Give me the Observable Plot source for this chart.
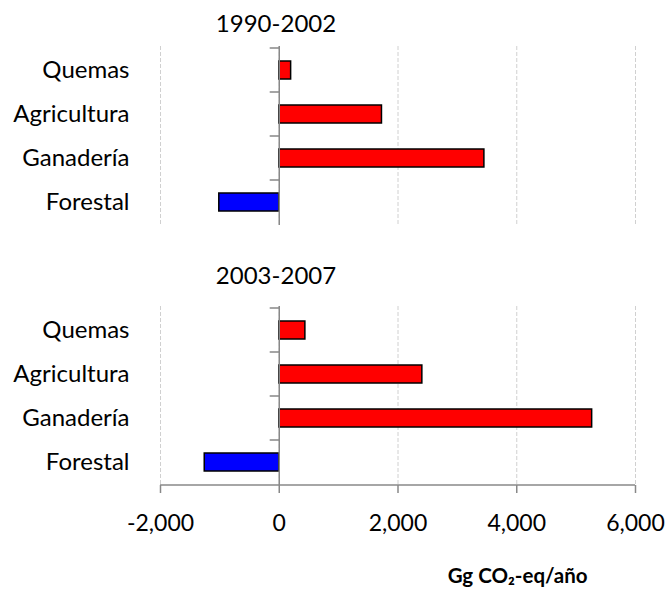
<!DOCTYPE html>
<html>
<head>
<meta charset="utf-8">
<script src="https://cdn.jsdelivr.net/npm/d3@7"></script>
<script src="https://cdn.jsdelivr.net/npm/@observablehq/plot@0.6"></script>
<style>
  html, body { margin: 0; padding: 0; background: #fff; }
  #chart { width: 669px; height: 595px; }
</style>
</head>
<body>
<div id="chart"></div>
<script>
const categories = ["Quemas", "Agricultura", "Ganadería", "Forestal"];
const periods = ["1990-2002", "2003-2007"];
const values1990 = [200, 1730, 3455, -1010];
const values2003 = [440, 2410, 5270, -1255];
const xTicks = [-2000, 0, 2000, 4000, 6000];
const xLabel = "Gg CO\u2082-eq/año";

const data = [
  ...categories.map((c, i) => ({period: periods[0], category: c, value: values1990[i]})),
  ...categories.map((c, i) => ({period: periods[1], category: c, value: values2003[i]}))
];
const boundaries = periods.flatMap(p => categories.map(c => ({period: p, category: c})));

const FONT = "Lato, 'Noto Sans', sans-serif";
const step = 45;
const fmt = d3.format(",");

const tickShape = {draw(context, l) { context.moveTo(0, 0); context.lineTo(0, -l); }};

const plot = Plot.plot({
  width: 669,
  height: 595,
  marginLeft: 160,
  marginRight: 34,
  marginTop: 45,
  marginBottom: 109,
  style: {fontFamily: FONT, fontSize: "24px", color: "#000", background: "#fff"},
  x: {domain: [xTicks[0], xTicks[xTicks.length - 1]], ticks: xTicks},
  y: {domain: categories, paddingInner: 0.6, paddingOuter: 0.3},
  fy: {domain: periods, paddingInner: 0.31, paddingOuter: 0, axis: null},
  marks: [
    Plot.gridX(xTicks, {stroke: "#d0d0d0", strokeOpacity: 1, strokeDasharray: "4,2"}),
    Plot.barX(data, {
      fy: "period", y: "category", x: "value",
      fill: d => d.value < 0 ? "#0000ff" : "#ff0000",
      stroke: "#000", strokeWidth: 1.5
    }),
    Plot.ruleX([0], {stroke: "#888", strokeWidth: 1.5}),
    Plot.vector(boundaries, {
      fy: "period", y: "category", x: 0,
      length: 9, rotate: -90, anchor: "start", shape: tickShape,
      dy: -step / 2, stroke: "#888", strokeWidth: 1.5
    }),
    Plot.ruleY([categories[categories.length - 1]], {
      fy: [periods[1]], y: d => d,
      x1: xTicks[0], x2: xTicks[xTicks.length - 1],
      dy: step / 2, stroke: "#888", strokeWidth: 1.5
    }),
    Plot.axisX({
      ticks: xTicks, tickFormat: d => fmt(d).replace("\u2212", "-"),
      tickSize: 8, tickPadding: 21,
      stroke: "#888", strokeWidth: 1.5, fontSize: 23, label: null
    }),
    Plot.axisY({tickSize: 0, tickPadding: 31, fontSize: 24, label: null}),
    Plot.text([periods[0]], {
      fy: d => d, text: d => d, frameAnchor: "top", lineAnchor: "middle",
      dx: -122, dy: -22, fontSize: 24, fill: "#000"
    }),
    Plot.text([periods[1]], {
      fy: d => d, text: d => d, frameAnchor: "top", lineAnchor: "middle",
      dx: -122, dy: -30, fontSize: 24, fill: "#000"
    }),
    Plot.text([xLabel], {
      fy: [periods[1]], text: d => d, frameAnchor: "bottom-right",
      textAnchor: "end", lineAnchor: "middle",
      dx: -48, dy: 91, fontSize: 20.5, fontWeight: "bold", fill: "#000"
    })
  ]
});
document.getElementById("chart").appendChild(plot);
</script>
</body>
</html>
